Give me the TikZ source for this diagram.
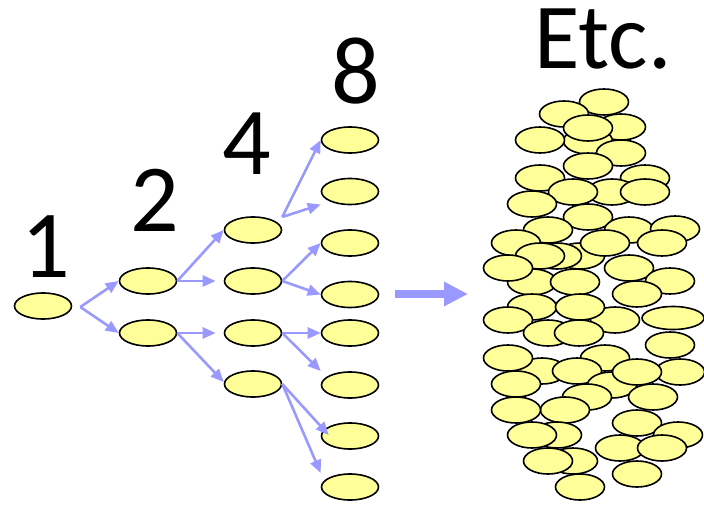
\documentclass[tikz,border=0pt]{standalone}
\usepackage{fontspec}
\setmainfont{Carlito}
\usetikzlibrary{shapes.geometric,arrows.meta,calc}
\definecolor{cellfill}{HTML}{FFFF99}
\definecolor{arrowblue}{HTML}{9999FF}
\begin{document}
\begin{tikzpicture}[x=1pt,y=-1pt,
  cell/.style={ellipse,draw=black,line width=1.6pt,fill=cellfill,inner sep=0pt,
               minimum width=57pt,minimum height=26pt},
  blob/.style={cell,minimum width=49pt,minimum height=26pt},
  split/.style={draw=arrowblue,line width=2.6pt,-{Triangle[length=13pt,width=11pt]}},
  bigarrow/.style={draw=arrowblue,line width=8pt,-{Triangle[length=24pt,width=23pt]}},
  count/.style={anchor=base,inner sep=0pt,font=\fontsize{96}{96}\selectfont}]
\useasboundingbox (0,0) rectangle (704,505);

% generation counts
\node[count] (l1) at (46,277) {1};
\node[count] (l2) at (155,232) {2};
\node[count] (l4) at (247,175) {4};
\node[count] (l8) at (356,104) {8};
\node[count,font=\fontsize{93}{93}\selectfont] (letc) at (603,69) {Etc.};

% the doubling tree
\node[cell] (r) at (43,306) {};
\node[cell] (a1) at (148,281) {};
\node[cell] (a2) at (148,333) {};
\node[cell] (b1) at (253,230) {};
\node[cell] (b2) at (253,281) {};
\node[cell] (b3) at (253,333) {};
\node[cell] (b4) at (253,384) {};
\foreach \i/\y in {1/140,2/191.5,3/243,4/294.5,5/333,6/385,7/436,8/487}
  \node[cell] (c\i) at (350,\y) {};

% fork points
\coordinate (f0) at ($(r.east)+(8,1)$);
\coordinate (f1) at ($(b1.east)+(0,-13)$);

\draw[split] (f0) -- (a1.west);
\draw[split] (f0) -- (a2.west);
\draw[split] (a1.east) -- (b1.west);
\draw[split,shorten >=8pt] (a1.east) -- (b2.west);
\draw[split,shorten >=8pt] (a2.east) -- (b3.west);
\draw[split] (a2.east) -- ($(b4.west)+(0,-2)$);
\draw[split] (f1) -- (c1.west);
\draw[split] (f1) -- ($(c2.west)+(0,13)$);
\draw[split] (b2.east) -- (c3.west);
\draw[split] (b2.east) -- (c4.west);
\draw[split] (b3.east) -- (c5.west);
\draw[split] (b3.east) -- ($(c6.west)+(0,-14)$);
\draw[split] (b4.east) -- ($(c7.west)+(8,-1)$);
\draw[split] (b4.east) -- ($(c8.west)+(0,-14)$);

% transition to the large population
\coordinate (ts) at (395,294);
\coordinate (te) at (468,294);
\draw[bigarrow] (ts) -- (te);

% the large population
\foreach \x/\y [count=\k] in {
  604/102, 564/114, 621/127, 588/141, 588/128, 540/140, 621/153, 588/166,
  540/178, 645/178, 612/192, 573/192, 645/192, 532/204, 588/217, 548/230,
  629/230, 675/229, 516/243, 580/256, 605/243, 662/243, 557/256, 540/256,
  629/268, 532/282, 575/282, 508/268, 670/281, 637/294, 615/320, 532/307,
  580/307, 508/320, 548/333, 579/333}
  \node[blob] (p\k) at (\x,\y) {};
\node[blob,minimum width=62pt,minimum height=23pt] (pw) at (673,318) {};
\foreach \x/\y [count=\k] in {
  670/345, 605/358, 542/371, 577/371, 508/358, 516/384, 680/372, 612/385,
  637/372, 587/397, 653/397, 565/410, 516/410, 637/423, 678/435, 557/435,
  532/435, 620/448, 662/448, 573/461, 548/461, 637/474, 580/487}
  \node[blob] (q\k) at (\x,\y) {};
\end{tikzpicture}
\end{document}
